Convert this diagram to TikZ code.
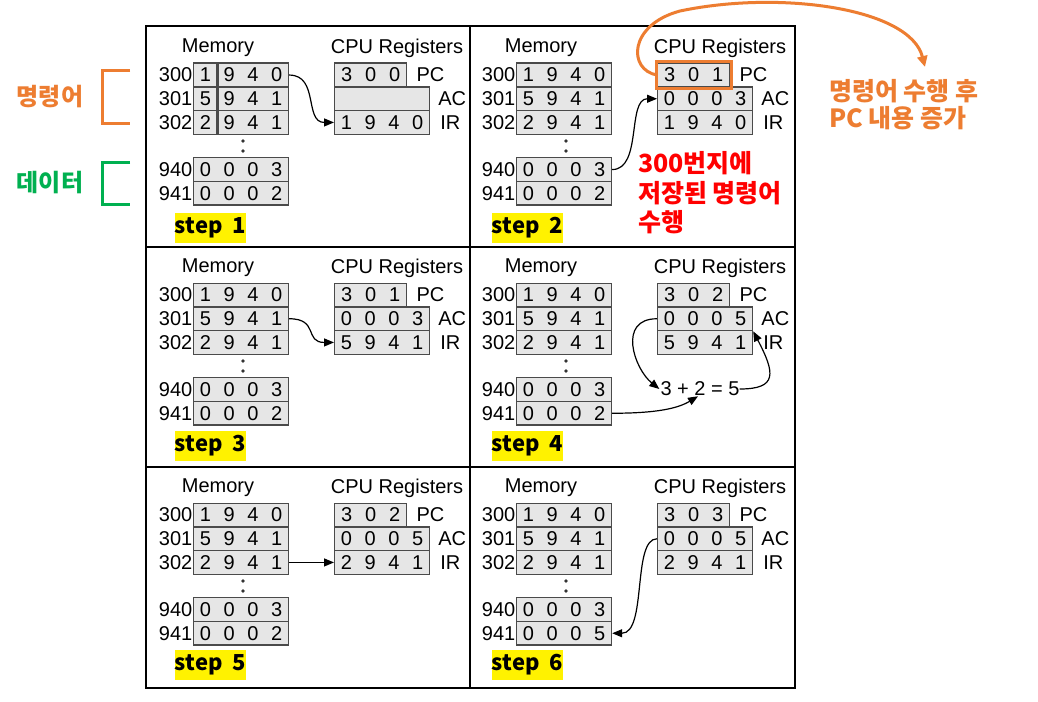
\documentclass[tikz,border=0pt]{standalone}
\usepackage{fontspec}
\setmainfont{Liberation Sans}
\newfontfamily\kr{Noto Sans CJK KR}
\usetikzlibrary{arrows.meta}
\definecolor{orng}{HTML}{ED7D31}
\definecolor{grn}{HTML}{00B050}
\definecolor{cellfill}{HTML}{E6E6E6}
\definecolor{cellline}{HTML}{4A4A4A}
\tikzset{
 cell/.style={draw=cellline, fill=cellfill, line width=1.4pt, inner sep=0pt, minimum height=23.7pt, anchor=north west, font=\fontsize{20}{20}\selectfont},
 lbl/.style={inner sep=0pt, font=\fontsize{20}{20}\selectfont},
 addr/.style={inner sep=0.5pt, anchor=east, font=\fontsize{20}{20}\selectfont},
 reg/.style={inner sep=0pt, anchor=west, font=\fontsize{20}{20}\selectfont},
 steplbl/.style={fill=yellow, inner sep=0pt, minimum width=71pt, minimum height=30pt, font=\kr\bfseries\fontsize{22}{22}\selectfont},
 dotm/.style={circle, fill=black!80, inner sep=0pt, minimum size=3.8pt},
 arr/.style={line width=1.2pt, -{Triangle[length=10pt,width=8pt]}},
 framel/.style={line width=2.8pt},
 kor/.style={inner sep=0pt, anchor=west, font=\kr\bfseries\fontsize{25}{25}\selectfont},
 korl/.style={inner sep=0pt, font=\kr\bfseries\fontsize{24}{24}\selectfont},
 brk/.style={line width=3pt},
}
\newcommand\dfour[4]{\makebox[23.7pt]{#1}\makebox[23.7pt]{#2}\makebox[23.7pt]{#3}\makebox[23.7pt]{#4}}
\newcommand\dthree[3]{\makebox[24pt]{#1}\makebox[24pt]{#2}\makebox[24pt]{#3}}
\newcommand\panel[9]{%
\begin{scope}[shift={(#2,#3)}]
 \node[lbl] (#1mt) at (218,48) {Memory};
 \node[lbl] (#1ct) at (397,48) {CPU Registers};
 \node[cell] (#1m300) at (193,62.5) {\dfour1940};
 \node[cell] (#1m301) at (193,86.2) {\dfour5941};
 \node[cell] (#1m302) at (193,109.9) {\dfour2941};
 \node[cell] (#1m940) at (193,157) {\dfour0003};
 \node[cell] (#1m941) at (193,180.7) {#7};
 \node[addr] (#1a300) at (#1m300.west) {300};
 \node[addr] (#1a301) at (#1m301.west) {301};
 \node[addr] (#1a302) at (#1m302.west) {302};
 \node[addr] (#1a940) at (#1m940.west) {940};
 \node[addr] (#1a941) at (#1m941.west) {941};
 \node[dotm] (#1d1) at (243,141) {};
 \node[dotm] (#1d2) at (243,151) {};
 \node[cell] (#1pc) at (334,62.5) {#4};
 \node[cell] (#1ac) at (334,86.2) {#5};
 \node[cell] (#1ir) at (334,109.9) {#6};
 \node[reg] (#1pcl) at ([xshift=9pt]#1pc.east) {PC};
 \node[reg] (#1acl) at ([xshift=8pt]#1ac.east) {AC};
 \node[reg] (#1irl) at ([xshift=10pt]#1ir.east) {IR};
 \node[steplbl] (#1st) at (#9) {step\ \ #8};
\end{scope}}
\begin{document}
\begin{tikzpicture}[x=1pt,y=-1pt]
\useasboundingbox (0,0) rectangle (1038,701);
\fill[white] (0,0) rectangle (1038,701);
% frame
\draw[framel] (146,26) rectangle (795,688);
\draw[framel] (470,26) -- (470,688);
\draw[framel] (146,247) -- (795,247);
\draw[framel] (146,467) -- (795,467);
% panels
\panel{p1}{0}{0}{\dthree300}{\makebox[94.8pt]{}}{\dfour1940}{\dfour0002}{1}{210.5,228}
\panel{p2}{323}{0}{\dthree301}{\dfour0003}{\dfour1940}{\dfour0002}{2}{204.5,228}
\panel{p3}{0}{220}{\dthree301}{\dfour0003}{\dfour5941}{\dfour0002}{3}{210.5,226}
\panel{p4}{323}{220}{\dthree302}{\dfour0005}{\dfour5941}{\dfour0002}{4}{204.5,226}
\panel{p5}{0}{440}{\dthree302}{\dfour0005}{\dfour2941}{\dfour0002}{5}{210.5,225}
\panel{p6}{323}{440}{\dthree303}{\dfour0005}{\dfour2941}{\dfour0005}{6}{204.5,225}
% step 1 divider
\draw[cellline, line width=2.5pt] (217.5,63) -- (217.5,133.5);
% arrows
\draw[arr] (p1m300.east) .. controls +(30,0) and +(-30,0) .. (p1ir.west);
\draw[arr] (p2m940.east) .. controls +(30,0) and +(-30,0) .. (p2ac.west);
\draw[arr] (p3m301.east) .. controls +(30,0) and +(-30,0) .. (p3ir.west);
\draw[arr] (p5m302.east) -- (p5ir.west);
\node[lbl] (eq) at (700,389) {3 + 2 = 5};
\draw[arr] (p4ac.west) .. controls +(-40,0) and +(-25,-20) .. ([xshift=-1pt]eq.west);
\draw[arr] (p4m941.east) .. controls +(45,0) and +(-20,12) .. ([xshift=-2pt]eq.south);
\draw[arr] (eq.east) .. controls +(38,0) and +(22,42) .. (p4ac.south east);
\draw[arr] (p6ac.west) .. controls +(-25,0) and +(35,0) .. (p6m941.east);
% orange annotation
\draw[orng, line width=3pt] ([shift={(-1,-1)}]p2pc.north west) rectangle ([shift={(1,1)}]p2pc.south east);
\coordinate (tipA) at (925,67);
\draw[orng, line width=3pt, -{Triangle[length=11pt,width=10pt]}] (p2pc.west) .. controls (628,70) and (628,25) .. (680,11) .. controls (780,-10) and (910,8) .. (tipA);
\node[kor, text=orng] (n1) at (829,91) {명령어 수행 후};
\node[kor, text=orng] (n2) at (829,118) {PC 내용 증가};
\node[kor, text=red] (r1) at (638,163) {300번지에};
\node[kor, text=red] (r2) at (638,193) {저장된 명령어};
\node[kor, text=red] (r3) at (638,222) {수행};
% left labels
\node[korl, text=orng] (l1) at (50,97) {명령어};
\node[korl, text=grn] (l2) at (50,183) {데이터};
\draw[brk, orng] (130,70) -- (102,70) -- (102,123) -- (130,123);
\draw[brk, grn] (130,162) -- (102,162) -- (102,204) -- (130,204);
\end{tikzpicture}
\end{document}
